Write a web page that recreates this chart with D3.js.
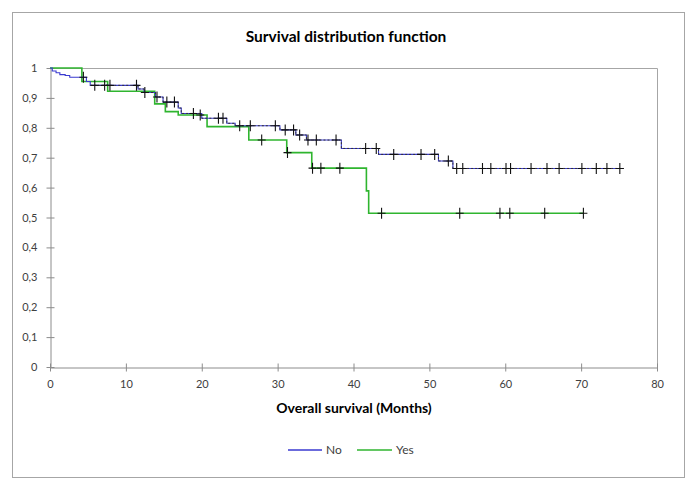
<!DOCTYPE html>
<html>
<head>
<meta charset="utf-8">
<script src="https://cdn.jsdelivr.net/npm/d3@7/dist/d3.min.js"></script>
<style>
  html, body { margin: 0; padding: 0; background: #fff; }
  svg { display: block; }
</style>
</head>
<body>
<svg id="chart" width="697" height="489"></svg>
<script>
// ---- data ----
const title = "Survival distribution function";
const xTitle = "Overall survival (Months)";
const seriesNames = ["No", "Yes"];
const xTicks = [0, 10, 20, 30, 40, 50, 60, 70, 80];
const yTicks = [0, 0.1, 0.2, 0.3, 0.4, 0.5, 0.6, 0.7, 0.8, 0.9, 1];

const noTimes = [0, 0.3, 0.8, 1.3, 2.0, 2.6, 4.8, 5.3, 11.6, 12.4, 13.9, 14.9, 16.9, 17.3, 20.0, 23.3, 24.4, 30.3, 32.4, 33.8, 38.4, 43.3, 51.2, 53.1];
const noSurv  = [1, 0.99, 0.984, 0.978, 0.975, 0.969, 0.955, 0.942, 0.93, 0.918, 0.903, 0.886, 0.866, 0.848, 0.832, 0.815, 0.807, 0.793, 0.776, 0.759, 0.731, 0.711, 0.689, 0.664];
const noEnd = 75.6;
const noCensored = [4.4, 5.9, 7.2, 7.9, 11.4, 12.5, 14.1, 15.4, 16.4, 18.9, 22.2, 22.8, 25.0, 26.4, 29.7, 31.0, 32.1, 32.9, 34.0, 35.1, 37.7, 41.6, 43.0, 45.3, 48.9, 50.7, 52.5, 53.6, 54.4, 57.0, 58.1, 60.1, 60.7, 63.4, 65.5, 67.1, 70.1, 72.0, 73.4, 75.1];

const yesTimes = [0, 4.2, 7.6, 13.8, 15.2, 16.9, 20.7, 26.2, 31.2, 34.5, 41.7, 42.0];
const yesSurv  = [1, 0.955, 0.922, 0.88, 0.854, 0.843, 0.804, 0.759, 0.717, 0.665, 0.589, 0.514];
const yesEnd = 70.3;
const yesCensored = [19.8, 27.9, 31.3, 34.6, 35.7, 38.2, 43.7, 54.0, 59.3, 60.6, 65.2, 70.3];

// ---- layout ----
const svg = d3.select("#chart");
const font = "Lato, 'Liberation Sans', sans-serif";
const colors = { No: "#3a3ad0", Yes: "#2fb52f" };
const axisColor = "#8c8c8c";
const textColor = "#404040";

const x = d3.scaleLinear().domain([0, 80]).range([50, 657]);
const y = d3.scaleLinear().domain([0, 1]).range([367, 68]);

// outer border
svg.append("rect").attr("x", 12.5).attr("y", 12.5).attr("width", 672).attr("height", 465)
  .attr("fill", "#fff").attr("stroke", "#a6a6a6").attr("stroke-width", 1);

// title
svg.append("text").attr("x", 346).attr("y", 42).attr("text-anchor", "middle")
  .attr("font-family", font).attr("font-weight", "bold").attr("font-size", 15.5)
  .attr("fill", "#000").text(title);

// plot frame (top & right)
svg.append("path")
  .attr("d", `M${x(0)},${y(1) + 0.5}H${x(80) + 0.5}V${y(0)}`)
  .attr("fill", "none").attr("stroke", "#a6a6a6").attr("stroke-width", 1);

// axes
const xAxis = d3.axisBottom(x).tickValues(xTicks).tickSizeInner(4).tickSizeOuter(0).tickPadding(9);
const gx = svg.append("g").attr("transform", `translate(0,${y(0) + 0.5})`).call(xAxis);
gx.selectAll(".tick line").attr("y1", -4).attr("y2", 4);
const yAxis = d3.axisLeft(y).tickValues(yTicks).tickSizeInner(4).tickSizeOuter(0).tickPadding(9)
  .tickFormat(d => d3.format(".1~f")(d).replace(".", ","));
const gy = svg.append("g").attr("transform", `translate(${x(0) + 0.5},0)`).call(yAxis);
gy.selectAll(".tick line").attr("x1", -4).attr("x2", 4);
[gx, gy].forEach(g => {
  g.selectAll("path, line").attr("stroke", axisColor);
  g.selectAll("text").attr("font-family", font).attr("font-size", 11).attr("fill", textColor);
});

// x title
svg.append("text").attr("x", 354).attr("y", 413).attr("text-anchor", "middle")
  .attr("font-family", font).attr("font-weight", "bold").attr("font-size", 14)
  .attr("fill", "#000").text(xTitle);

// ---- curves ----
function survAt(times, surv, t) {
  let s = surv[0];
  for (let i = 0; i < times.length; i++) if (times[i] <= t) s = surv[i];
  return s;
}
function stepPoints(times, surv, end, from) {
  const pts = times.map((t, i) => [t, surv[i]]);
  pts.push([end, surv[surv.length - 1]]);
  if (from === undefined) return pts;
  const out = [[from, survAt(times, surv, from)]];
  pts.forEach(p => { if (p[0] > from) out.push(p); });
  return out;
}
const line = d3.line().x(d => x(d[0])).y(d => y(d[1])).curve(d3.curveStepAfter);

svg.append("path").datum(stepPoints(yesTimes, yesSurv, yesEnd))
  .attr("d", line).attr("fill", "none").attr("stroke", colors.Yes).attr("stroke-width", 1.6);
svg.append("path").datum(stepPoints(noTimes, noSurv, noEnd))
  .attr("d", line).attr("fill", "none").attr("stroke", colors.No).attr("stroke-width", 1.1);
// dark dashed overlay of the "No" curve (as in the reference)
svg.append("path").datum(stepPoints(noTimes, noSurv, noEnd, 5.3))
  .attr("d", line).attr("fill", "none").attr("stroke", "#333").attr("stroke-width", 1)
  .attr("stroke-dasharray", "2,2");

// censor marks
function crosses(times, surv, cens) {
  const g = svg.append("g").attr("stroke", "#111").attr("stroke-width", 1.1);
  cens.forEach(t => {
    const cx = x(t), cy = y(survAt(times, surv, t));
    g.append("path").attr("d", `M${cx - 4},${cy}H${cx + 4}M${cx},${cy - 5.5}V${cy + 5.5}`);
  });
}
crosses(yesTimes, yesSurv, yesCensored);
crosses(noTimes, noSurv, noCensored);

// ---- legend ----
const legend = [
  { name: seriesNames[0], x1: 288, x2: 322 },
  { name: seriesNames[1], x1: 357, x2: 392 }
];
legend.forEach(l => {
  svg.append("line").attr("x1", l.x1).attr("x2", l.x2).attr("y1", 450).attr("y2", 450)
    .attr("stroke", colors[l.name]).attr("stroke-width", 1.6);
  svg.append("text").attr("x", l.x2 + 4).attr("y", 454).attr("font-family", font)
    .attr("font-size", 12).attr("fill", textColor).text(l.name);
});
</script>
</body>
</html>
